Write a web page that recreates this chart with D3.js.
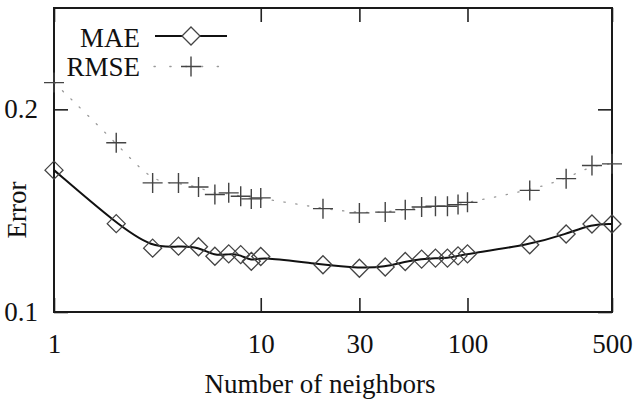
<!DOCTYPE html>
<html>
<head>
<meta charset="utf-8">
<script src="https://cdn.jsdelivr.net/npm/d3@7"></script>
<style>
  body { margin: 0; background: #fff; }
  svg text { font-family: "Liberation Serif", "Times New Roman", serif; fill: #111; }
</style>
</head>
<body>
<svg id="chart" width="640" height="399"></svg>
<script>
const neighbors = [1, 2, 3, 4, 5, 6, 7, 8, 9, 10, 20, 30, 40, 50, 60, 70, 80, 90, 100, 200, 300, 400, 500];
const mae  = [0.170, 0.1436, 0.1315, 0.1325, 0.1322, 0.1275, 0.1287, 0.1283, 0.1250, 0.1274, 0.1233, 0.1216, 0.1222, 0.1249, 0.1261, 0.1266, 0.1266, 0.1277, 0.1287, 0.1332, 0.1385, 0.1434, 0.1434];
const rmse = [0.2132, 0.1835, 0.1637, 0.1637, 0.1617, 0.1580, 0.1588, 0.1571, 0.1558, 0.1563, 0.1510, 0.1489, 0.1493, 0.1505, 0.1518, 0.1522, 0.1522, 0.1530, 0.1541, 0.1600, 0.1658, 0.1723, 0.1731];
const xTicks = [1, 10, 30, 100, 500];
const yTicks = [0.1, 0.2];

const svg = d3.select("#chart"),
      margin = {top: 8, right: 28, bottom: 87, left: 54},
      width = +svg.attr("width") - margin.left - margin.right,
      height = +svg.attr("height") - margin.top - margin.bottom;

const g = svg.append("g").attr("transform", `translate(${margin.left},${margin.top})`);

const x = d3.scaleLog().domain([1, 500]).range([0, width]);
const y = d3.scaleLinear().domain([0.1, 0.25]).range([height, 0]);

// axes with inward ticks, labels only bottom/left
g.append("g").attr("transform", `translate(0,${height})`)
  .call(d3.axisBottom(x).tickValues(xTicks).tickFormat(d3.format("d")).tickSize(-14).tickPadding(22));
g.append("g")
  .call(d3.axisLeft(y).tickValues(yTicks).tickFormat(d3.format(".1f")).tickSize(-14).tickPadding(16));
g.append("g")
  .call(d3.axisTop(x).tickValues(xTicks).tickFormat("").tickSize(-14));
g.append("g").attr("transform", `translate(${width},0)`)
  .call(d3.axisRight(y).tickValues(yTicks).tickFormat("").tickSize(-14));

g.selectAll(".domain").remove();
g.selectAll(".tick line").attr("stroke", "#222").attr("stroke-width", 1.6);
g.selectAll(".tick text").style("font-size", "27px").attr("fill", "#111");

g.append("rect")
  .attr("width", width).attr("height", height)
  .attr("fill", "none").attr("stroke", "#1a1a1a").attr("stroke-width", 2);

const maeData = neighbors.map((n, i) => ({n, v: mae[i]}));
const rmseData = neighbors.map((n, i) => ({n, v: rmse[i]}));

const line = d3.line().x(d => x(d.n)).y(d => y(d.v)).curve(d3.curveBasis);

g.append("path").datum(rmseData)
  .attr("d", line).attr("fill", "none")
  .attr("stroke", "#999").attr("stroke-width", 1.3)
  .attr("stroke-dasharray", "1.3,10.5").attr("stroke-linecap", "round");

g.append("path").datum(maeData)
  .attr("d", line).attr("fill", "none")
  .attr("stroke", "#111").attr("stroke-width", 2);

const diamond = (cx, cy) => `M${cx},${cy - 9}L${cx + 9},${cy}L${cx},${cy + 9}L${cx - 9},${cy}Z`;
const plus = (cx, cy) => `M${cx - 10},${cy}H${cx + 10}M${cx},${cy - 10}V${cy + 10}`;

g.selectAll(".mae").data(maeData).enter().append("path")
  .attr("d", d => diamond(x(d.n), y(d.v)))
  .attr("fill", "none").attr("stroke", "#444").attr("stroke-width", 1.3);

g.selectAll(".rmse").data(rmseData).enter().append("path")
  .attr("d", d => plus(x(d.n), y(d.v)))
  .attr("fill", "none").attr("stroke", "#444").attr("stroke-width", 1.4);

// legend
const legend = svg.append("g");
legend.append("text").attr("x", 140).attr("y", 46.5).attr("text-anchor", "end")
  .style("font-size", "27px").text("MAE");
legend.append("line").attr("x1", 155).attr("x2", 227).attr("y1", 36).attr("y2", 36)
  .attr("stroke", "#111").attr("stroke-width", 2);
legend.append("path").attr("d", diamond(191, 36))
  .attr("fill", "#fff").attr("stroke", "#444").attr("stroke-width", 1.3);

legend.append("text").attr("x", 140).attr("y", 76).attr("text-anchor", "end")
  .style("font-size", "27px").text("RMSE");
legend.append("line").attr("x1", 154).attr("x2", 229).attr("y1", 66.5).attr("y2", 66.5)
  .attr("stroke", "#999").attr("stroke-width", 1.3)
  .attr("stroke-dasharray", "1.3,14.5").attr("stroke-linecap", "round");
legend.append("path").attr("d", plus(191, 66.5))
  .attr("fill", "none").attr("stroke", "#444").attr("stroke-width", 1.4);

// axis titles
svg.append("text").attr("x", 320).attr("y", 393).attr("text-anchor", "middle")
  .style("font-size", "27px").text("Number of neighbors");
svg.append("text").attr("transform", "translate(26,210) rotate(-90)")
  .attr("text-anchor", "middle").style("font-size", "27px").text("Error");
</script>
</body>
</html>
